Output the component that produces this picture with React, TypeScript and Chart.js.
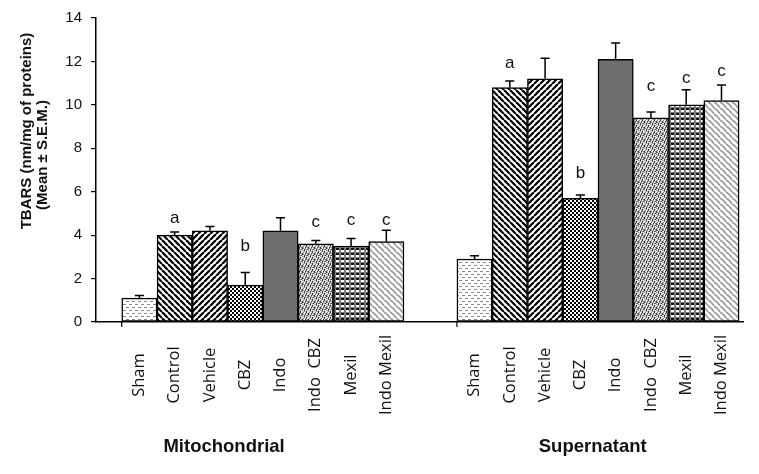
import { useEffect, useRef } from "react";
import { Chart, registerables } from "chart.js";

Chart.register(...registerables);

// ---------- data ----------
const treatments = ["Sham", "Control", "Vehicle", "CBZ", "Indo", "Indo  CBZ", "Mexil", "Indo Mexil"];
const groups = ["Mitochondrial", "Supernatant"];
const mitoMeans = [1.1, 4.0, 4.2, 1.7, 4.2, 3.6, 3.5, 3.7];
const mitoSEM = [0.12, 0.15, 0.2, 0.58, 0.6, 0.15, 0.35, 0.52];
const superMeans = [2.9, 10.8, 11.2, 5.7, 12.1, 9.4, 10.0, 10.2];
const superSEM = [0.15, 0.3, 0.95, 0.15, 0.75, 0.27, 0.7, 0.72];
const mitoLetters = ["", "a", "", "b", "", "c", "c", "c"];
const superLetters = ["", "a", "", "b", "", "c", "c", "c"];
const mitoLetterY = [0, 4.76, 0, 3.48, 0, 4.6, 4.67, 4.7];
const superLetterY = [0, 11.91, 0, 6.87, 0, 10.84, 11.22, 11.56];
const yMin = 0;
const yMax = 14;
const yStep = 2;
const yTitleLines = ["TBARS (nm/mg of proteins)", "(Mean ± S.E.M.)"];

// layout helpers (bar-unit spacing between group starts, axis range)
const GROUP_OFFSET = 9.5;
const X_MIN = -1.23;
const X_MAX = 17.11;
const groupLabelX = [2.4, 12.85];

const allMeans = [mitoMeans, superMeans];
const allSEM = [mitoSEM, superSEM];
const allLetters = [mitoLetters, superLetters];
const allLetterY = [mitoLetterY, superLetterY];

function makeTile(w: number, h: number, draw: (g: CanvasRenderingContext2D) => void) {
  const c = document.createElement("canvas");
  c.width = w;
  c.height = h;
  const g = c.getContext("2d")!;
  draw(g);
  return c;
}

function pixelTile(mask: string[], colors: Record<string, string>) {
  const h = mask.length;
  const w = mask[0].length;
  return makeTile(w, h, (g) => {
    mask.forEach((row, y) =>
      row.split("").forEach((ch, x) => {
        g.fillStyle = colors[ch] || "#fff";
        g.fillRect(x, y, 1, 1);
      })
    );
  });
}

function makePatterns(ctx: CanvasRenderingContext2D): (CanvasPattern | string)[] {
  const rep = (c: HTMLCanvasElement) => ctx.createPattern(c, "repeat") as CanvasPattern;
  const sham = makeTile(6, 6, (g) => {
    g.fillStyle = "#fff";
    g.fillRect(0, 0, 6, 6);
    g.fillStyle = "#8a8a8a";
    g.fillRect(0, 1, 3, 1);
    g.fillRect(3, 4, 3, 1);
  });
  const diag = (dir: number) =>
    makeTile(6, 6, (g) => {
      g.fillStyle = "#fff";
      g.fillRect(0, 0, 6, 6);
      g.strokeStyle = "#000";
      g.lineWidth = 2.2;
      for (const x0 of [-6, 0, 6]) {
        g.beginPath();
        if (dir > 0) {
          g.moveTo(x0, 0);
          g.lineTo(x0 + 6, 6);
        } else {
          g.moveTo(x0, 6);
          g.lineTo(x0 + 6, 0);
        }
        g.stroke();
      }
    });
  const check = makeTile(4, 4, (g) => {
    g.fillStyle = "#fff";
    g.fillRect(0, 0, 4, 4);
    g.fillStyle = "#000";
    g.fillRect(0, 0, 2, 2);
    g.fillRect(2, 2, 2, 2);
  });
  const speckle = pixelTile(
    ["xw.ow.", ".ox.wx", "w.xo.o", "ox.wx.", ".wo.xw", "x.w.o."],
    { x: "#3a3a3a", o: "#8a8a8a", ".": "#c4c4c4", w: "#ffffff" }
  );
  const grid = pixelTile(
    [".www.", ".www.", ".....", ".xxx.", ".xxx."],
    { ".": "#7c7c7c", w: "#ffffff", x: "#151515" }
  );
  const wave = makeTile(6, 6, (g) => {
    g.fillStyle = "#fff";
    g.fillRect(0, 0, 6, 6);
    g.strokeStyle = "#9a9a9a";
    g.lineWidth = 1.6;
    for (const x0 of [-6, 0, 6]) {
      g.beginPath();
      g.moveTo(x0, 0);
      g.quadraticCurveTo(x0 + 4, 2, x0 + 6, 6);
      g.stroke();
    }
  });
  return [rep(sham), rep(diag(1)), rep(diag(-1)), rep(check), "#6e6e6e", rep(speckle), rep(grid), rep(wave)];
}

const annotations = {
  id: "annotations",
  afterDatasetsDraw(chart: any) {
    const { ctx } = chart;
    const y = chart.scales.y;
    const meta = chart.getDatasetMeta(0);
    ctx.save();
    ctx.strokeStyle = "#000";
    ctx.lineWidth = 1.5;
    let k = 0;
    allMeans.forEach((means, gi) => {
      means.forEach((m, i) => {
        const el = meta.data[k++];
        const x = el.x;
        const top = y.getPixelForValue(m);
        const et = y.getPixelForValue(m + allSEM[gi][i]);
        ctx.beginPath();
        ctx.moveTo(x, top);
        ctx.lineTo(x, et);
        ctx.moveTo(x - 4.5, et);
        ctx.lineTo(x + 4.5, et);
        ctx.stroke();
        const letter = allLetters[gi][i];
        if (letter) {
          ctx.fillStyle = "#111";
          ctx.font = "17px 'Liberation Sans', Arial, sans-serif";
          ctx.textAlign = "center";
          ctx.textBaseline = "middle";
          ctx.fillText(letter, x, y.getPixelForValue(allLetterY[gi][i]));
        }
      });
    });
    ctx.restore();
  },
  afterDraw(chart: any) {
    const { ctx, chartArea } = chart;
    const xs = chart.scales.x;
    const meta = chart.getDatasetMeta(0);
    ctx.save();
    ctx.fillStyle = "#111";
    // category labels
    ctx.font = "16.5px 'Open Sans', sans-serif";
    ctx.textAlign = "center";
    ctx.textBaseline = "middle";
    meta.data.forEach((el: any, k: number) => {
      ctx.save();
      ctx.translate(el.x, 375);
      ctx.rotate(-Math.PI / 2);
      ctx.fillText(treatments[k % treatments.length], 0, 0);
      ctx.restore();
    });
    // small ticks at group starts
    ctx.strokeStyle = "#000";
    ctx.lineWidth = 1.2;
    groups.forEach((_, gi) => {
      const el = meta.data[gi * treatments.length];
      const left = el.x - el.width / 2;
      ctx.beginPath();
      ctx.moveTo(left, chartArea.bottom);
      ctx.lineTo(left, chartArea.bottom + 5);
      ctx.stroke();
    });
    // group labels
    ctx.font = "bold 18.5px 'Liberation Sans', Arial, sans-serif";
    groups.forEach((g, gi) => {
      ctx.fillText(g, xs.getPixelForValue(groupLabelX[gi]), 447);
    });
    // y title
    ctx.font = "bold 15px 'Liberation Sans', Arial, sans-serif";
    const pos = [
      [27, 131],
      [43, 155],
    ];
    yTitleLines.forEach((t, i) => {
      ctx.save();
      ctx.translate(pos[i][0], pos[i][1]);
      ctx.rotate(-Math.PI / 2);
      ctx.fillText(t, 0, 0);
      ctx.restore();
    });
    ctx.restore();
  },
};

export default function App() {
  const ref = useRef<HTMLCanvasElement>(null);
  useEffect(() => {
    document.body.style.margin = "0";
    const canvas = ref.current!;
    const ctx = canvas.getContext("2d")!;
    const patterns = makePatterns(ctx);
    const points: { x: number; y: number }[] = [];
    const xPositions: number[] = [];
    allMeans.forEach((means, gi) =>
      means.forEach((m, i) => {
        const xv = gi * GROUP_OFFSET + i;
        points.push({ x: xv, y: m });
        xPositions.push(xv);
      })
    );
    const chart = new Chart(canvas, {
      type: "bar",
      data: {
        datasets: [
          {
            data: points as any,
            backgroundColor: points.map((_, k) => patterns[k % treatments.length]) as any,
            borderColor: "#000",
            borderWidth: 1.5,
            borderSkipped: false,
            categoryPercentage: 1,
            barPercentage: 1,
          },
        ],
      },
      options: {
        responsive: false,
        animation: false,
        devicePixelRatio: 1,
        layout: { padding: { top: 16, right: 16, left: 0, bottom: 0 } },
        plugins: { legend: { display: false }, tooltip: { enabled: false } },
        scales: {
          x: {
            type: "linear",
            offset: false,
            min: X_MIN,
            max: X_MAX,
            grid: { display: false, drawTicks: false, offset: false },
            ticks: { display: false },
            border: { display: true, color: "#000", width: 1.5 },
            afterBuildTicks(s: any) {
              s.ticks = xPositions.map((v) => ({ value: v }));
            },
            afterFit(s: any) {
              s.height = 152;
            },
          },
          y: {
            min: yMin,
            max: yMax,
            ticks: {
              stepSize: yStep,
              color: "#111",
              padding: 9,
              font: { family: "'Liberation Sans', Arial, sans-serif", size: 15 },
            },
            grid: { drawOnChartArea: false, drawTicks: true, tickLength: 5, color: "#000", lineWidth: 1.2 },
            border: { display: true, color: "#000", width: 1.5 },
            afterFit(s: any) {
              s.width = 96;
            },
          },
        },
      },
      plugins: [annotations],
    });
    return () => chart.destroy();
  }, []);
  return (
    <div style={{ width: 759, height: 474 }}>
      <canvas ref={ref} width={759} height={474} />
    </div>
  );
}
